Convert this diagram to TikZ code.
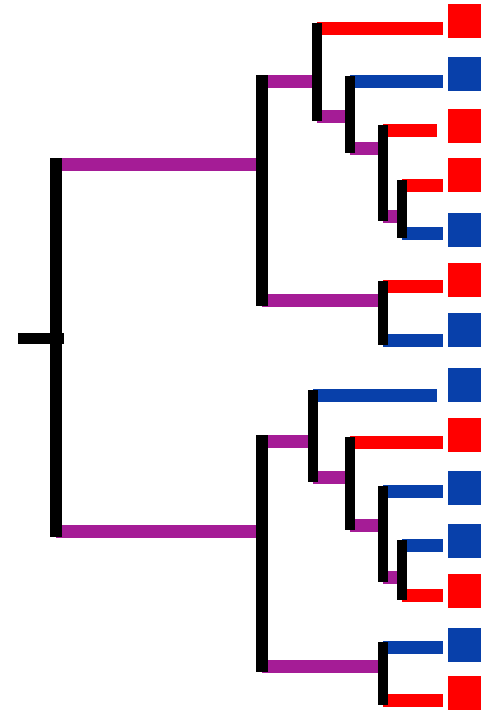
\documentclass[tikz,border=0pt]{standalone}
\definecolor{tred}{RGB}{255,0,0}
\definecolor{tblue}{RGB}{8,64,170}
\definecolor{tmag}{RGB}{165,28,150}
\begin{document}
\begin{tikzpicture}[x=1pt,y=-1pt,
  vmain/.style={line width=12.5pt, line cap=rect, black},
  vin/.style={line width=10.5pt, line cap=rect, black},
  hb/.style={line width=13pt},
  leafsq/.style={minimum width=34pt, minimum height=34pt, inner sep=0pt, draw=none},
]
\useasboundingbox (0,0) rectangle (481,713);
% root
\coordinate (r0) at (18,338); \coordinate (r1) at (64,338);
\coordinate (rootT) at (56,164); \coordinate (rootB) at (56,531);
% internal nodes: attach point, top child, bottom child
\coordinate (U) at (262,164); \coordinate (Ut) at (262,81);  \coordinate (Ub) at (262,300);
\coordinate (A) at (317,81);  \coordinate (At) at (317,28);  \coordinate (Ab) at (317,116);
\coordinate (B) at (350,116); \coordinate (Bt) at (350,81);  \coordinate (Bb) at (350,148);
\coordinate (C) at (383,148); \coordinate (Ct) at (383,130); \coordinate (Cb) at (383,216);
\coordinate (D) at (402,216); \coordinate (Dt) at (402,185); \coordinate (Db) at (402,233);
\coordinate (E) at (383,300); \coordinate (Et) at (383,286); \coordinate (Eb) at (383,340);
\coordinate (L) at (262,531); \coordinate (Lt) at (262,441); \coordinate (Lb) at (262,666);
\coordinate (F) at (313,441); \coordinate (Ft) at (313,395); \coordinate (Fb) at (313,477);
\coordinate (G) at (350,477); \coordinate (Gt) at (350,442); \coordinate (Gb) at (350,525);
\coordinate (H) at (383,525); \coordinate (Ht) at (383,491); \coordinate (Hb) at (383,577);
\coordinate (I) at (402,577); \coordinate (It) at (402,545); \coordinate (Ib) at (402,595);
\coordinate (J) at (383,666); \coordinate (Jt) at (383,647); \coordinate (Jb) at (383,700);
% leaf tips
\coordinate (t1) at (443,28);  \coordinate (t2) at (443,81);  \coordinate (t3) at (437,130);
\coordinate (t4) at (443,185); \coordinate (t5) at (443,233); \coordinate (t6) at (443,286);
\coordinate (t7) at (443,340); \coordinate (t8) at (437,395); \coordinate (t9) at (443,442);
\coordinate (t10) at (443,491); \coordinate (t11) at (443,545); \coordinate (t12) at (443,595);
\coordinate (t13) at (443,647); \coordinate (t14) at (443,700);
% leaf squares
\node[leafsq, fill=tred]  (s1)  at (465,21) {};
\node[leafsq, fill=tblue] (s2)  at (465,74) {};
\node[leafsq, fill=tred]  (s3)  at (465,126) {};
\node[leafsq, fill=tred]  (s4)  at (465,175) {};
\node[leafsq, fill=tblue] (s5)  at (465,230) {};
\node[leafsq, fill=tred]  (s6)  at (465,280) {};
\node[leafsq, fill=tblue] (s7)  at (465,330) {};
\node[leafsq, fill=tblue] (s8)  at (465,385) {};
\node[leafsq, fill=tred]  (s9)  at (465,435) {};
\node[leafsq, fill=tblue] (s10) at (465,488) {};
\node[leafsq, fill=tblue] (s11) at (465,541) {};
\node[leafsq, fill=tred]  (s12) at (465,591) {};
\node[leafsq, fill=tblue] (s13) at (465,645) {};
\node[leafsq, fill=tred]  (s14) at (465,693) {};
% internal (magenta) branches
\draw[hb, tmag] (rootT) -- (U);
\draw[hb, tmag] (rootB) -- (L);
\draw[hb, tmag] (Ut) -- (A);
\draw[hb, tmag] (Ub) -- (E);
\draw[hb, tmag] (Ab) -- (B);
\draw[hb, tmag] (Bb) -- (C);
\draw[hb, tmag] (Cb) -- (D);
\draw[hb, tmag] (Lt) -- (F);
\draw[hb, tmag] (Lb) -- (J);
\draw[hb, tmag] (Fb) -- (G);
\draw[hb, tmag] (Gb) -- (H);
\draw[hb, tmag] (Hb) -- (I);
% terminal branches
\draw[hb, tred]  (At) -- (t1);
\draw[hb, tblue] (Bt) -- (t2);
\draw[hb, tred]  (Ct) -- (t3);
\draw[hb, tred]  (Dt) -- (t4);
\draw[hb, tblue] (Db) -- (t5);
\draw[hb, tred]  (Et) -- (t6);
\draw[hb, tblue] (Eb) -- (t7);
\draw[hb, tblue] (Ft) -- (t8);
\draw[hb, tred]  (Gt) -- (t9);
\draw[hb, tblue] (Ht) -- (t10);
\draw[hb, tblue] (It) -- (t11);
\draw[hb, tred]  (Ib) -- (t12);
\draw[hb, tblue] (Jt) -- (t13);
\draw[hb, tred]  (Jb) -- (t14);
% black verticals
\draw[vmain] (rootT) -- (rootB);
\draw[line width=11pt, black] (r0) -- (r1);
\draw[vmain] (Ut) -- (Ub);
\draw[vmain] (Lt) -- (Lb);
\draw[vin] (At) -- (Ab);
\draw[vin] (Bt) -- (Bb);
\draw[vin] (Ct) -- (Cb);
\draw[vin] (Dt) -- (Db);
\draw[vin] (Et) -- (Eb);
\draw[vin] (Ft) -- (Fb);
\draw[vin] (Gt) -- (Gb);
\draw[vin] (Ht) -- (Hb);
\draw[vin] (It) -- (Ib);
\draw[vin] (Jt) -- (Jb);
\end{tikzpicture}
\end{document}
